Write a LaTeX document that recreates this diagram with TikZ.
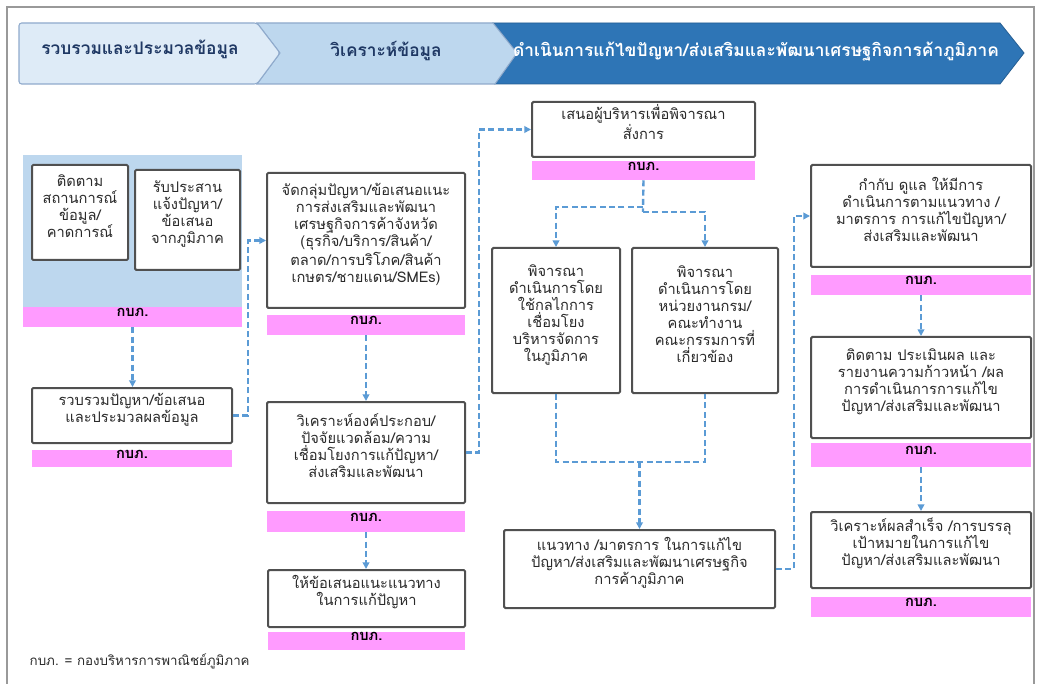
\documentclass[tikz,border=0pt]{standalone}
\usepackage{fontspec}
\newfontfamily\thai[Script=Thai]{Loma}
\usetikzlibrary{arrows.meta,fit,calc}
\definecolor{boxline}{HTML}{505050}
\definecolor{pinkfill}{HTML}{FF9BFF}
\definecolor{bgblue}{HTML}{BDD7EE}
\definecolor{arrowblue}{HTML}{5B9BD5}
\definecolor{chevA}{HTML}{DEEBF7}
\definecolor{chevB}{HTML}{BDD7EE}
\definecolor{chevC}{HTML}{2E75B6}
\definecolor{chevline}{HTML}{8FAACC}
\definecolor{navy}{HTML}{1F3864}
\definecolor{txt}{HTML}{2A2A2A}
\tikzset{
  box/.style={draw=boxline, line width=1.5pt, fill=white, rounded corners=1pt, inner sep=0pt,
    align=center, text=txt, font=\thai\fontsize{11}{12.75}\selectfont},
  pinkbar/.style={fill=pinkfill, inner sep=0pt, text=black, font=\thai\bfseries\fontsize{11}{11}\selectfont},
  arr/.style={draw=arrowblue, line width=1.8pt, dash pattern=on 4.5pt off 2.5pt, -{Triangle[length=5pt,width=5pt]}},
  dline/.style={draw=arrowblue, line width=1.8pt, dash pattern=on 4.5pt off 2.5pt},
  chevtext/.style={font=\thai\bfseries\fontsize{13}{14}\selectfont}
}
\begin{document}
\begin{tikzpicture}[x=0.75pt,y=-0.75pt]
\useasboundingbox (0,0) rectangle (1039,684);
\fill[white] (0,0) rectangle (1039,684);
% outer frame
\draw[gray!80, line width=1.5pt] (7,684) -- (7,7) -- (1034,7) -- (1034,684);
% chevrons
\draw[fill=chevC, draw=chevC!80!black, line width=0.6pt] (493,23) -- (1000,23) -- (1024,53) -- (1000,84) -- (495,84) -- (517,53) -- cycle;
\draw[fill=chevB, draw=chevline, line width=0.8pt] (257,23) -- (493,23) -- (517,53) -- (495,84) -- (257,84) -- (280,53) -- cycle;
\draw[fill=chevA, draw=chevline, line width=0.8pt, rounded corners=2pt] (19,23) -- (257,23) -- (280,53) -- (257,84) -- (19,84) -- cycle;
\node[chevtext, text=navy] (h1) at (140,49) {รวบรวมและประมวลข้อมูล};
\node[chevtext, text=navy] (h2) at (386,51) {วิเคราะห์ข้อมูล};
\node[chevtext, text=white] (h3) at (756,52) {ดำเนินการแก้ไขปัญหา/ส่งเสริมและพัฒนาเศรษฐกิจการค้าภูมิภาค};
% left group
\node[fill=bgblue, inner sep=0pt, fit={(23,155) (242,307)}] (grp) {};
\node[pinkbar, fit={(23,307) (242,327)}] (pl) {กบภ.};
\node[box, fit={(32,165) (128,260)}] (b1) {ติดตาม\\สถานการณ์\\ข้อมูล/\\คาดการณ์};
\node[box, fit={(135,170) (240,270)}] (b2) {รับประสาน\\แจ้งปัญหา/\\ข้อเสนอ\\จากภูมิภาค};
\node[box, fit={(32,388) (232,443)}] (b3) {รวบรวมปัญหา/ข้อเสนอ\\และประมวลผลข้อมูล};
\node[pinkbar, fit={(32,450) (232,467)}] (p3) {กบภ.};
% column 2
\node[box, fit={(267,173) (465,308)}] (b4) {จัดกลุ่มปัญหา/ข้อเสนอแนะ\\การส่งเสริมและพัฒนา\\เศรษฐกิจการค้าจังหวัด\\(ธุรกิจ/บริการ/สินค้า/\\ตลาด/การบริโภค/สินค้า\\เกษตร/ชายแดน/SMEs)};
\node[pinkbar, fit={(267,315) (465,335)}] (p4) {กบภ.};
\node[box, fit={(267,402) (465,503)}] (b5) {วิเคราะห์องค์ประกอบ/\\ปัจจัยแวดล้อม/ความ\\เชื่อมโยงการแก้ปัญหา/\\ส่งเสริมและพัฒนา};
\node[pinkbar, fit={(267,511) (465,532)}] (p5) {กบภ.};
\node[box, fit={(268,570) (465,627)}] (b6) {ให้ข้อเสนอแนะแนวทาง\\ในการแก้ปัญหา};
\node[pinkbar, fit={(268,632) (465,650)}] (p6) {กบภ.};
% column 3
\node[box, fit={(532,102) (755,157)}] (b7) {เสนอผู้บริหารเพื่อพิจารณา\\สั่งการ};
\node[pinkbar, fit={(532,161) (755,180)}] (p7) {กบภ.};
\node[box, fit={(492,248) (620,393)}] (b8) {พิจารณา\\ดำเนินการโดย\\ใช้กลไกการ\\เชื่อมโยง\\บริหารจัดการ\\ในภูมิภาค};
\node[box, fit={(632,248) (778,393)}] (b9) {พิจารณา\\ดำเนินการโดย\\หน่วยงานกรม/\\คณะทำงาน\\คณะกรรมการที่\\เกี่ยวข้อง};
\node[box, fit={(504,530) (775,608)}] (b10) {แนวทาง /มาตรการ ในการแก้ไข\\ปัญหา/ส่งเสริมและพัฒนาเศรษฐกิจ\\การค้าภูมิภาค};
% column 4
\node[box, fit={(811,165) (1031,267)}] (b11) {กำกับ ดูแล ให้มีการ\\ดำเนินการตามแนวทาง /\\มาตรการ การแก้ไขปัญหา/\\ส่งเสริมและพัฒนา};
\node[pinkbar, fit={(811,275) (1031,295)}] (p11) {กบภ.};
\node[box, fit={(811,337) (1031,438)}] (b12) {ติดตาม ประเมินผล และ\\รายงานความก้าวหน้า /ผล\\การดำเนินการการแก้ไข\\ปัญหา/ส่งเสริมและพัฒนา};
\node[pinkbar, fit={(811,443) (1031,467)}] (p12) {กบภ.};
\node[box, fit={(811,512) (1031,588)}] (b13) {วิเคราะห์ผลสำเร็จ /การบรรลุ\\เป้าหมายในการแก้ไข\\ปัญหา/ส่งเสริมและพัฒนา};
\node[pinkbar, fit={(811,597) (1031,617)}] (p13) {กบภ.};
% footer
\node[anchor=west, text=txt, font=\thai\fontsize{10}{12}\selectfont] (foot) at (25,661) {กบภ. = กองบริหารการพาณิชย์ภูมิภาค};
% connectors
\draw[arr] (pl.south) -- (pl.south |- b3.north);
\draw[arr] (b3.east) -- ++(15,0) |- (b4.west);
\draw[arr] (p4.south) -- (p4.south |- b5.north);
\draw[arr] (p5.south) -- (p5.south |- b6.north);
\draw[arr] (b5.east) -- ++(13,0) |- (b7.west);
\coordinate (s1) at (643,207);
\coordinate (s2) at (643,212);
\draw[dline] (p7.south) -- (s1) -- (s2);
\draw[arr] (s1) -| (b8.north);
\draw[arr] (s2) -| (b9.north);
\coordinate (m) at (639.5,462);
\draw[dline] (b8.south) |- (m) -| (b9.south);
\draw[arr] (m) -- (m |- b10.north);
\draw[arr] (b10.east) -- ++(18,0) |- (b11.west);
\draw[arr] (p11.south) -- (p11.south |- b12.north);
\draw[arr] (p12.south) -- (p12.south |- b13.north);
\end{tikzpicture}
\end{document}
